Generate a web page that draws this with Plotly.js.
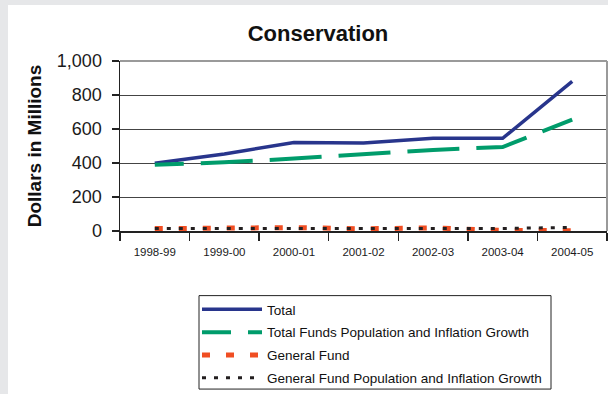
<!DOCTYPE html>
<html>
<head>
<meta charset="utf-8">
<script src="https://cdn.plot.ly/plotly-3.0.1.min.js"></script>
<style>
  html, body { margin: 0; padding: 0; background: #e6e7e9; width: 608px; height: 394px; overflow: hidden; }
  #chart { position: absolute; left: 8px; top: 5px; width: 600px; height: 389px; background: #ffffff; }
</style>
</head>
<body>
<div id="chart"></div>
<script>
// Fiscal years on the category axis
var years = ['1998-99', '1999-00', '2000-01', '2001-02', '2002-03', '2003-04', '2004-05'];

// Spending, dollars in millions
var total = [398, 453, 521, 518, 546, 545, 880];
var totalPopInflation = [389, 404, 426, 451, 477, 494, 655];
var generalFund = [14, 18, 20, 13, 18, 3, 2];
var generalPopInflation = [14, 14, 14, 14, 15, 15, 21];

var seriesNames = [
  'Total',
  'Total Funds Population and Inflation Growth',
  'General Fund',
  'General Fund Population and Inflation Growth'
];

var yTicks = [0, 200, 400, 600, 800, 1000];

var fontFamily = 'Arial, "Liberation Sans", sans-serif';

// Plot area in pixels inside the chart div
var W = 600, H = 389;
var M = { l: 112, r: 1, t: 56, b: 162 };
var plotW = W - M.l - M.r, plotH = H - M.t - M.b;

// pixel position inside the div -> paper fraction
function px(x) { return (x - M.l) / plotW; }
function py(y) { return (M.t + plotH - y) / plotH; }

// long dashes that open with a shorter half dash
var longDash = '29px,17px,52px,17px,52px,17px,52px,17px,52px,17px,52px,17px,52px,17px,52px,17px,52px,17px';

function lineTrace(values, name, color, width, dash) {
  return {
    x: years,
    y: values,
    name: name,
    legendgroup: name,
    type: 'scatter',
    mode: 'lines',
    line: { color: color, width: width, dash: dash },
    hoverinfo: 'x+y+name'
  };
}

var traces = [
  lineTrace(total, seriesNames[0], '#28358c', 3.5, 'solid'),
  lineTrace(totalPopInflation, seriesNames[1], '#009c6b', 4, longDash),
  lineTrace(generalFund, seriesNames[2], '#f04e23', 5, '8px,16px'),
  lineTrace(generalPopInflation, seriesNames[3], '#231f20', 3, '4px,8px')
];

var layout = {
  width: W,
  height: H,
  margin: M,
  paper_bgcolor: '#ffffff',
  plot_bgcolor: '#ffffff',
  font: { family: fontFamily, color: '#111111' },
  showlegend: true,
  title: {
    text: '<b>Conservation</b>',
    font: { family: fontFamily, size: 22, color: '#111111' },
    xref: 'container', yref: 'container',
    x: 310 / W, y: 1 - 28 / H,
    xanchor: 'center', yanchor: 'middle'
  },
  xaxis: {
    type: 'category',
    categoryarray: years,
    range: [-0.5, 6.5],
    tickson: 'boundaries',
    ticks: 'outside',
    ticklen: 8,
    tickwidth: 1.5,
    tickcolor: '#222222',
    showline: true,
    linecolor: '#222222',
    linewidth: 1.5,
    showgrid: false,
    zeroline: false,
    tickangle: 0,
    automargin: false,
    ticklabelstandoff: 10,
    tickfont: { family: fontFamily, size: 11.5, color: '#1a1a1a' },
    fixedrange: true
  },
  yaxis: {
    range: [0, 1000],
    tickvals: yTicks,
    tickformat: ',d',
    ticks: 'outside',
    ticklen: 7,
    tickwidth: 1.5,
    tickcolor: '#222222',
    showline: true,
    linecolor: '#222222',
    linewidth: 1.5,
    showgrid: true,
    gridcolor: '#444444',
    gridwidth: 1,
    zeroline: false,
    automargin: false,
    ticklabelstandoff: 6,
    tickfont: { family: fontFamily, size: 18, color: '#1a1a1a' },
    title: {
      text: '<b>Dollars in Millions</b>',
      font: { family: fontFamily, size: 19, color: '#111111' },
      standoff: 10
    },
    fixedrange: true
  },
  shapes: [
    // grey frame on the top and right of the plot
    { type: 'line', xref: 'paper', yref: 'paper', x0: 0, x1: 1, y0: 1, y1: 1,
      line: { color: '#9a9a9a', width: 2 } },
    { type: 'line', xref: 'paper', yref: 'paper', x0: 1, x1: 1, y0: 0, y1: 1,
      line: { color: '#9a9a9a', width: 2 } },
    // legend box
    { type: 'rect', xref: 'paper', yref: 'paper',
      x0: px(191), x1: px(543), y0: py(386), y1: py(292),
      line: { color: '#222222', width: 1 }, fillcolor: 'rgba(0,0,0,0)' }
  ],
  legend: {
    xref: 'paper', yref: 'paper',
    x: px(189),
    y: py(289.7),
    xanchor: 'left', yanchor: 'top',
    bgcolor: 'rgba(0,0,0,0)',
    borderwidth: 0,
    itemwidth: 60,
    tracegroupgap: 2.3,
    font: { family: fontFamily, size: 13.5, color: '#111111' }
  }
};

Plotly.newPlot('chart', traces, layout, { displayModeBar: false, staticPlot: true });
</script>
</body>
</html>
